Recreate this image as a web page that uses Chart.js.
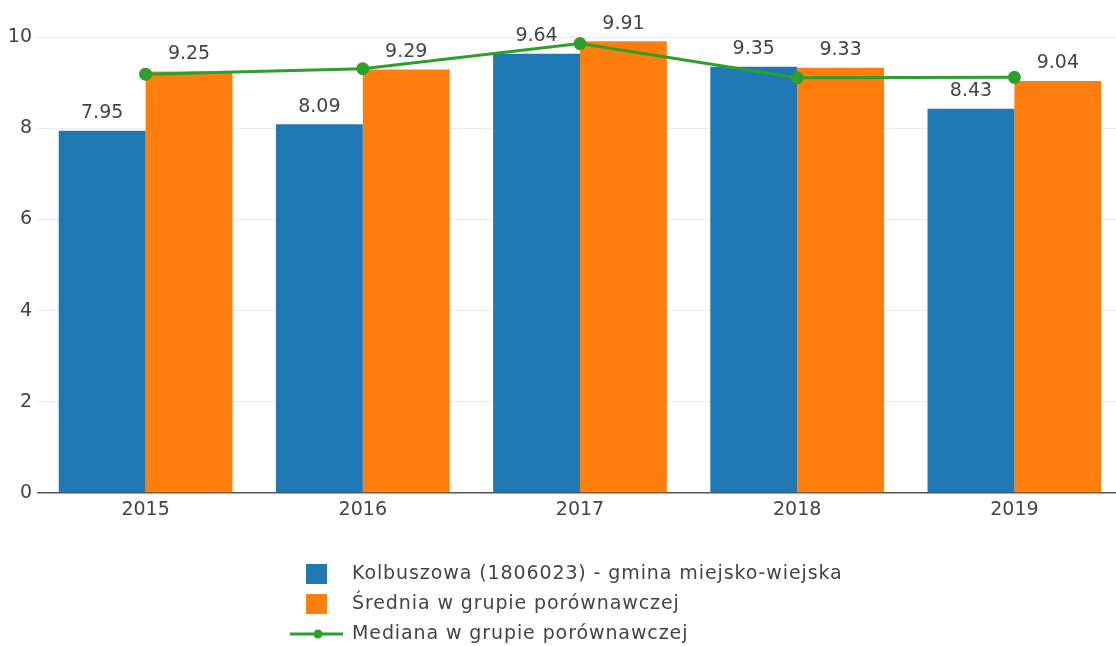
<!DOCTYPE html>
<html lang="pl">
<head>
  <meta charset="UTF-8">
  <title>Kolbuszowa</title>
  <script src="https://cdn.jsdelivr.net/npm/chart.js"></script>
  <style>
    html, body {
      margin: 0;
      padding: 0;
      background: #fff;
      overflow: hidden;
    }
    canvas { display: block; }
  </style>
</head>
<body>
  <canvas id="chart" width="1116" height="646"></canvas>

  <script>
    // data
    const years = ['2015', '2016', '2017', '2018', '2019'];
    const gminaValues = [7.95, 8.09, 9.64, 9.35, 8.43];
    const sredniaValues = [9.25, 9.29, 9.91, 9.33, 9.04];
    const medianaValues = [9.19, 9.31, 9.86, 9.11, 9.12];
    const yTicks = [0, 2, 4, 6, 8, 10];

    const seriesNames = [
      'Kolbuszowa (1806023) - gmina miejsko-wiejska',
      'Średnia w grupie porównawczej',
      'Mediana w grupie porównawczej'
    ];

    const FONT = 'DejaVu Sans';
    const SIZE = 19;
    const TEXT = '#444';
    const BLUE = '#1f77b4';
    const ORANGE = '#ff7f0e';
    const GREEN = '#2ca02c';

    // the source plot runs a few pixels past the right edge of the image
    const PLOT_RIGHT = 1123;
    function stretchX(chart) {
      const x = chart.scales.x;
      if (x.right === PLOT_RIGHT) return;
      x.right = PLOT_RIGHT;
      x.width = x.right - x.left;
      x.configure();
      chart.chartArea.right = PLOT_RIGHT;
      chart.chartArea.width = PLOT_RIGHT - chart.chartArea.left;
    }
    const overhang = {
      id: 'overhang',
      afterLayout: stretchX,
      beforeDatasetsUpdate: stretchX
    };

    // value labels over the bars
    const barLabels = {
      id: 'barLabels',
      afterDatasetsDraw(chart) {
        const ctx = chart.ctx;
        ctx.save();
        ctx.font = SIZE + 'px "' + FONT + '"';
        ctx.fillStyle = TEXT;
        ctx.textAlign = 'center';
        ctx.textBaseline = 'bottom';
        [0, 1].forEach(i => {
          const meta = chart.getDatasetMeta(i);
          meta.data.forEach((bar, j) => {
            const v = chart.data.datasets[i].data[j];
            ctx.fillText(v.toFixed(2), bar.x, bar.y - 8);
          });
        });
        ctx.restore();
      }
    };

    // legend below the plot, listed top to bottom
    const bottomLegend = {
      id: 'bottomLegend',
      afterDraw(chart) {
        const ctx = chart.ctx;
        ctx.save();
        ctx.font = SIZE + 'px "' + FONT + '"';
        ctx.textBaseline = 'middle';
        const rows = [574, 604, 634];
        ctx.fillStyle = BLUE;
        ctx.fillRect(306, rows[0] - 10, 21, 20);
        ctx.fillStyle = ORANGE;
        ctx.fillRect(306, rows[1] - 10, 21, 20);
        ctx.strokeStyle = GREEN;
        ctx.lineWidth = 3;
        ctx.beginPath();
        ctx.moveTo(290, rows[2]);
        ctx.lineTo(343, rows[2]);
        ctx.stroke();
        ctx.fillStyle = GREEN;
        ctx.beginPath();
        ctx.arc(318, rows[2], 4.5, 0, Math.PI * 2);
        ctx.fill();
        ctx.fillStyle = TEXT;
        ctx.letterSpacing = '0.9px';
        seriesNames.forEach((name, i) => ctx.fillText(name, 352, rows[i]));
        ctx.restore();
      }
    };

    const ctx = document.getElementById('chart').getContext('2d');
    new Chart(ctx, {
      type: 'bar',
      data: {
        labels: years,
        datasets: [
          {
            label: seriesNames[0],
            data: gminaValues,
            backgroundColor: BLUE,
            order: 2
          },
          {
            label: seriesNames[1],
            data: sredniaValues,
            backgroundColor: ORANGE,
            order: 2
          },
          {
            type: 'line',
            label: seriesNames[2],
            data: medianaValues,
            borderColor: GREEN,
            backgroundColor: GREEN,
            borderWidth: 3,
            pointRadius: 5,
            pointHoverRadius: 5,
            tension: 0,
            order: 0
          }
        ]
      },
      options: {
        responsive: false,
        animation: false,
        datasets: {
          bar: {
            categoryPercentage: 0.8,
            barPercentage: 1.0
          }
        },
        layout: {
          padding: { top: 19, left: 0, right: 0, bottom: 120 }
        },
        plugins: {
          legend: { display: false },
          tooltip: { enabled: false }
        },
        scales: {
          x: {
            offset: true,
            grid: { display: false, drawTicks: false },
            border: { display: false },
            ticks: {
              color: TEXT,
              font: { family: FONT, size: SIZE },
              padding: 6
            },
            afterFit(scale) { scale.height = 33; }
          },
          y: {
            min: 0,
            max: 10.4,
            afterBuildTicks(scale) {
              scale.ticks = yTicks.map(v => ({ value: v }));
            },
            grid: {
              drawTicks: false,
              color: ctx => ctx.tick && ctx.tick.value === 0 ? '#555' : '#ebebeb',
              lineWidth: ctx => ctx.tick && ctx.tick.value === 0 ? 1.5 : 1
            },
            border: { display: false },
            ticks: {
              color: TEXT,
              font: { family: FONT, size: SIZE },
              padding: 5
            },
            afterFit(scale) { scale.width = 37; }
          }
        }
      },
      plugins: [overhang, barLabels, bottomLegend]
    });
  </script>
</body>
</html>
